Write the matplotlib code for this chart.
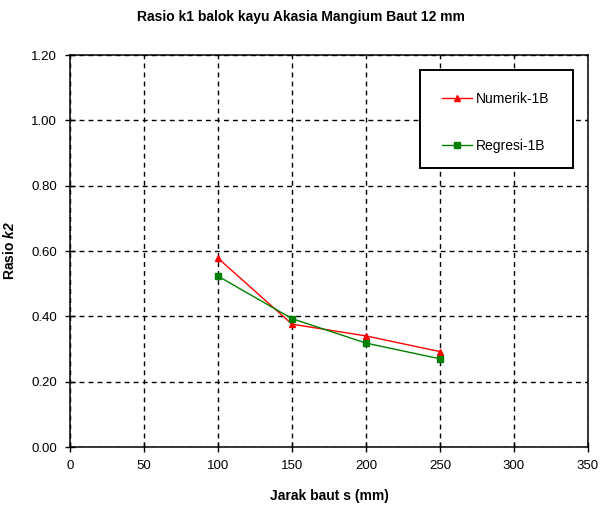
import matplotlib
matplotlib.use("Agg")
import matplotlib.pyplot as plt
from matplotlib.patches import Rectangle

plt.rcParams['font.family'] = ['Liberation Sans', 'DejaVu Sans']
plt.rcParams['mathtext.fontset'] = 'custom'
plt.rcParams['mathtext.bfit'] = 'Liberation Sans:bold:italic'
plt.rcParams['mathtext.rm'] = 'Liberation Sans'

jarak = [100, 150, 200, 250]
numerik = [0.578, 0.376, 0.340, 0.292]
regresi = [0.523, 0.393, 0.318, 0.270]

W, H = 601, 516
fig = plt.figure(figsize=(W/100, H/100), dpi=100)
L, R, B, T = 70, 588, 447, 55
ax = fig.add_axes([L/W, 1-B/H, (R-L)/W, (B-T)/H])

ax.plot(jarak, numerik, color='#ff0000', marker='^', markersize=5, lw=1, label='Numerik-1B')
ax.plot(jarak, regresi, color='#008000', marker='s', markersize=5, lw=1, label='Regresi-1B')

ax.set_xlim(0, 350)
ax.set_ylim(0, 1.2)
ax.set_xticks(range(0, 351, 50))
yt = [0, 0.2, 0.4, 0.6, 0.8, 1.0, 1.2]
ax.set_yticks(yt)
ax.set_yticklabels([f"{v:.2f}" for v in yt])
ax.grid(True, color='black', linestyle=(0, (3.5, 3)), linewidth=1.0)
ax.tick_params(direction='inout', length=7, width=1, labelsize=9.5, pad=6)
for s in ax.spines.values():
    s.set_linewidth(1.1)

ax.set_xlabel('Jarak baut s (mm)', fontsize=10, fontweight='bold', labelpad=12)
ax.set_ylabel(r'Rasio $\mathbfit{k2}$', fontsize=10, fontweight='bold', labelpad=10)
fig.text(0.5, 1-17/H, 'Rasio k1 balok kayu Akasia Mangium Baut 12 mm', ha='center', va='center',
         fontsize=10, fontweight='bold')

# legend frame
fx0, fx1, fy0, fy1 = 420, 573, 70, 168
frame = Rectangle((fx0/W, 1-fy1/H), (fx1-fx0)/W, (fy1-fy0)/H, transform=fig.transFigure,
                  facecolor='white', edgecolor='black', linewidth=1.4, zorder=5, clip_on=False)
ax.add_patch(frame)
leg = ax.legend(loc='upper left', bbox_to_anchor=((fx0-L)/(R-L), 1-(fy0-T)/(B-T)),
                fontsize=10, frameon=False, labelspacing=2.4, handlelength=2.2,
                handletextpad=0.3, borderpad=1.55, borderaxespad=0)
leg.set_zorder(6)

fig.savefig('out.png', dpi=100)
